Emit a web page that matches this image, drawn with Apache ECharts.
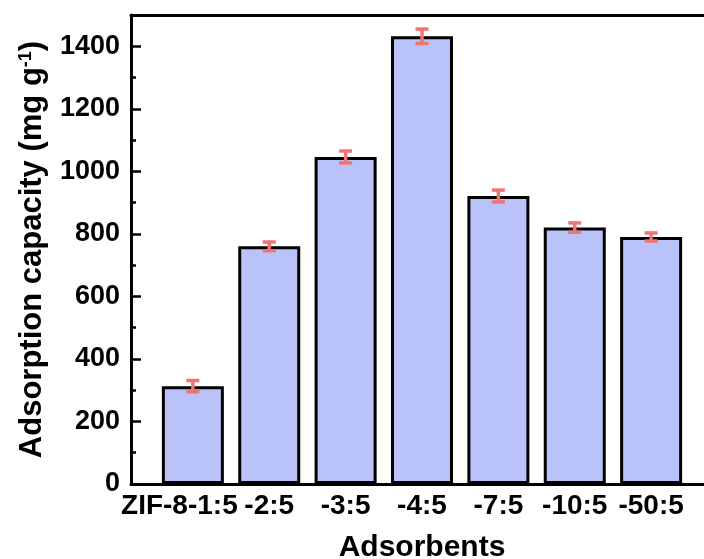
<!DOCTYPE html>
<html>
<head>
<meta charset="utf-8">
<script src="https://cdn.jsdelivr.net/npm/echarts@6.0.0/dist/echarts.min.js"></script>
<style>
html,body{margin:0;padding:0;background:#fff;}
#chart{width:704px;height:559px;}
</style>
</head>
<body>
<div id="chart"></div>
<script>
const categories = ['ZIF-8-1:5', '-2:5', '-3:5', '-4:5', '-7:5', '-10:5', '-50:5'];
const positions = [1, 2, 3, 4, 5, 6, 7];
const capacity = [313, 760, 1046, 1432, 921, 820, 790];
const errors = [18, 14, 19, 23, 19, 15, 13];
const yTicks = [0, 200, 400, 600, 800, 1000, 1200, 1400];

const FONT = 'Liberation Sans, Arial, sans-serif';
const barData = positions.map((p, i) => [p, capacity[i]]);
const errData = positions.map((p, i) => [p, capacity[i] - errors[i], capacity[i] + errors[i]]);

const lblStyle = {fontFamily: FONT, fontWeight: 'bold', fontSize: 28, color: '#000'};

const chart = echarts.init(document.getElementById('chart'), null, {renderer: 'canvas'});
chart.setOption({
  backgroundColor: '#ffffff',
  animation: false,
  grid: {left: 131, right: -9, top: 15, bottom: 75, containLabel: false, outerBoundsMode: 'none'},
  xAxis: [{
    type: 'value', min: 0.19, max: 7.81, position: 'bottom',
    name: 'Adsorbents', nameLocation: 'middle', nameGap: 49,
    nameTextStyle: {fontFamily: FONT, fontWeight: 'bold', fontSize: 30, color: '#000'},
    axisLine: {show: true, onZero: false, lineStyle: {color: '#000', width: 3}},
    axisTick: {show: true, inside: true, length: 10, customValues: positions, lineStyle: {color: '#000', width: 2.5}},
    axisLabel: {show: true, margin: 8, hideOverlap: false, customValues: positions,
      fontFamily: FONT, fontWeight: 'bold', fontSize: 28, color: '#000',
      rich: {z: Object.assign({}, lblStyle, {padding: [0, 27, 0, 0]})},
      formatter: v => {
        const i = Math.round(v) - 1;
        return i === 0 ? '{z|' + categories[0] + '}' : (categories[i] || '');
      }},
    splitLine: {show: false}
  }, {
    type: 'value', min: 0.19, max: 7.81, position: 'top',
    axisLine: {show: true, onZero: false, lineStyle: {color: '#000', width: 3}},
    axisTick: {show: false}, axisLabel: {show: false}, splitLine: {show: false}
  }],
  yAxis: {
    type: 'value', min: 0, max: 1500, interval: 200,
    name: '{a|Adsorption capacity (mg g}{s|-1}{a|)}', nameLocation: 'middle', nameGap: 83, nameRotate: 90,
    nameTextStyle: {
      rich: {
        a: {fontFamily: FONT, fontWeight: 'bold', fontSize: 31, color: '#000'},
        s: {fontFamily: FONT, fontWeight: 'bold', fontSize: 18, color: '#000', verticalAlign: 'top', padding: [0, 0, 12, 0]}
      }
    },
    axisLine: {show: true, onZero: false, lineStyle: {color: '#000', width: 3}},
    axisTick: {show: true, inside: true, length: 10, customValues: yTicks, lineStyle: {color: '#000', width: 2.5}},
    minorTick: {show: true, splitNumber: 2, length: 5, lineStyle: {color: '#000', width: 2.5}},
    axisLabel: {margin: 11, customValues: yTicks, fontFamily: FONT, fontWeight: 'bold', fontSize: 27, color: '#000',
      formatter: v => String(v)},
    splitLine: {show: false}
  },
  series: [{
    type: 'bar', xAxisIndex: 0, data: barData, barWidth: 62,
    itemStyle: {color: '#B9C3FA', borderColor: '#000', borderWidth: 3},
    z: 2
  }, {
    type: 'custom', xAxisIndex: 0, data: errData, z: 5,
    renderItem: function (params, api) {
      const x = api.value(0);
      const lo = api.coord([x, api.value(1)]);
      const hi = api.coord([x, api.value(2)]);
      const hw = 6.5;
      const style = {stroke: '#F07474', lineWidth: 3.5, fill: null};
      return {type: 'group', children: [
        {type: 'line', shape: {x1: lo[0], y1: lo[1], x2: hi[0], y2: hi[1]}, style: style},
        {type: 'line', shape: {x1: hi[0] - hw, y1: hi[1], x2: hi[0] + hw, y2: hi[1]}, style: style},
        {type: 'line', shape: {x1: lo[0] - hw, y1: lo[1], x2: lo[0] + hw, y2: lo[1]}, style: style}
      ]};
    }
  }]
});
</script>
</body>
</html>
